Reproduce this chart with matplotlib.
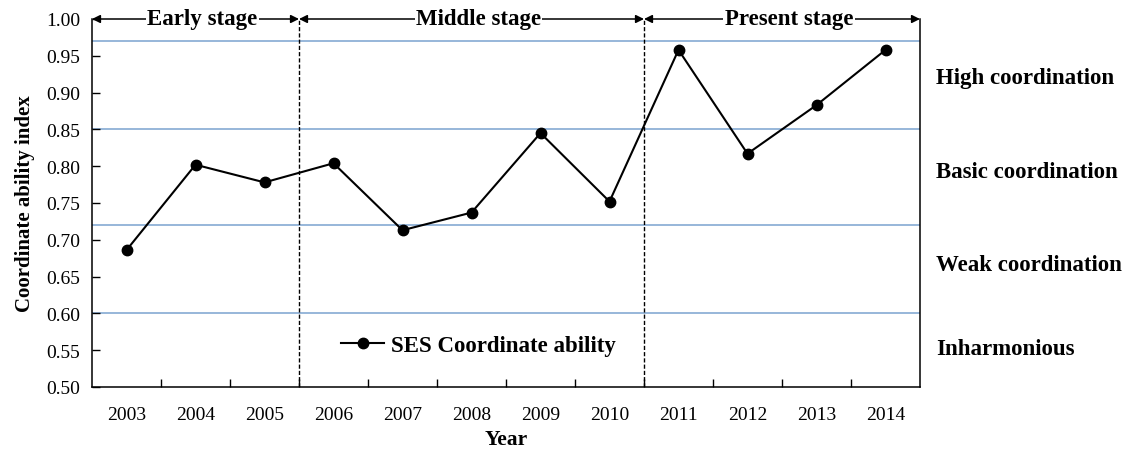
import matplotlib
matplotlib.use("Agg")
import matplotlib.pyplot as plt
import numpy as np

years = ["2003", "2004", "2005", "2006", "2007", "2008", "2009", "2010",
         "2011", "2012", "2013", "2014"]
ability = [0.686, 0.802, 0.778, 0.804, 0.713, 0.737, 0.845, 0.752,
           0.958, 0.817, 0.883, 0.958]
thresholds = [0.97, 0.85, 0.72, 0.60]
levels = ["High coordination", "Basic coordination", "Weak coordination", "Inharmonious"]
level_y = [0.920, 0.793, 0.666, 0.552]
stages = ["Early stage", "Middle stage", "Present stage"]
stage_bounds = [-0.5, 2.5, 7.5, 11.5]
yticks = [0.50, 0.55, 0.60, 0.65, 0.70, 0.75, 0.80, 0.85, 0.90, 0.95, 1.00]

plt.rcParams['font.family'] = ['Liberation Serif', 'DejaVu Serif']

fig = plt.figure(figsize=(11.28, 4.52), dpi=100)
ax = fig.add_axes([92/1128, 1-388/452, (920-92)/1128, (388-20)/452])

x = np.arange(len(years))
for t in thresholds:
    ax.axhline(t, color='#7BA3CF', lw=1.1, zorder=1)
for b in stage_bounds[1:-1]:
    ax.axvline(b, color='black', lw=1.0, ls=(0, (3, 1.5)), zorder=2)

ax.plot(x, ability, color='black', lw=1.5, marker='o', ms=7.5,
        label='SES Coordinate ability', zorder=3)

ax.set_xlim(-0.5, 11.5)
ax.set_ylim(0.5, 1.0)
ax.set_yticks(yticks)
ax.set_yticklabels([f"{v:.2f}" for v in yticks])
ax.set_xticks(x)
ax.set_xticklabels(years)
ax.set_xticks(np.arange(0.5, 11, 1), minor=True)
ax.tick_params(axis='x', which='major', length=0, pad=14, labelsize=14)
ax.tick_params(axis='x', which='minor', direction='in', length=6, width=1)
ax.tick_params(axis='y', direction='in', length=6, width=1, labelsize=14, pad=8.5)

ax.spines['top'].set_visible(False)
for s in ['left', 'bottom', 'right']:
    ax.spines[s].set_linewidth(1.1)

# stage arrows
for i, name in enumerate(stages):
    x0, x1 = stage_bounds[i], stage_bounds[i + 1]
    ax.annotate('', xy=(x0, 1.0), xytext=(x1, 1.0),
                arrowprops=dict(arrowstyle='<|-|>', color='black', lw=1.1,
                                mutation_scale=12, shrinkA=0, shrinkB=0),
                annotation_clip=False, zorder=4)
    ax.annotate(name, xy=((x0 + x1) / 2, 1.0), xytext=(5, 0),
                textcoords='offset points', ha='center', va='center',
                fontsize=16.5, fontweight='bold', zorder=5,
                bbox=dict(facecolor='white', edgecolor='none', pad=1.0))

for lab, yy in zip(levels, level_y):
    ax.text(1.019, (yy - 0.5) / 0.5, lab, transform=ax.transAxes,
            ha='left', va='center', fontsize=16.5, fontweight='bold')

ax.legend(loc='center', bbox_to_anchor=(5.10, 0.557), bbox_transform=ax.transData,
          frameon=False, prop={'weight': 'bold', 'size': 16.5},
          handlelength=1.85, handletextpad=0.3)

ax.set_ylabel('Coordinate ability index', fontsize=15, fontweight='bold', labelpad=8)
ax.set_xlabel('Year', fontsize=15.5, fontweight='bold', labelpad=4)

fig.savefig('out.png', dpi=100)
